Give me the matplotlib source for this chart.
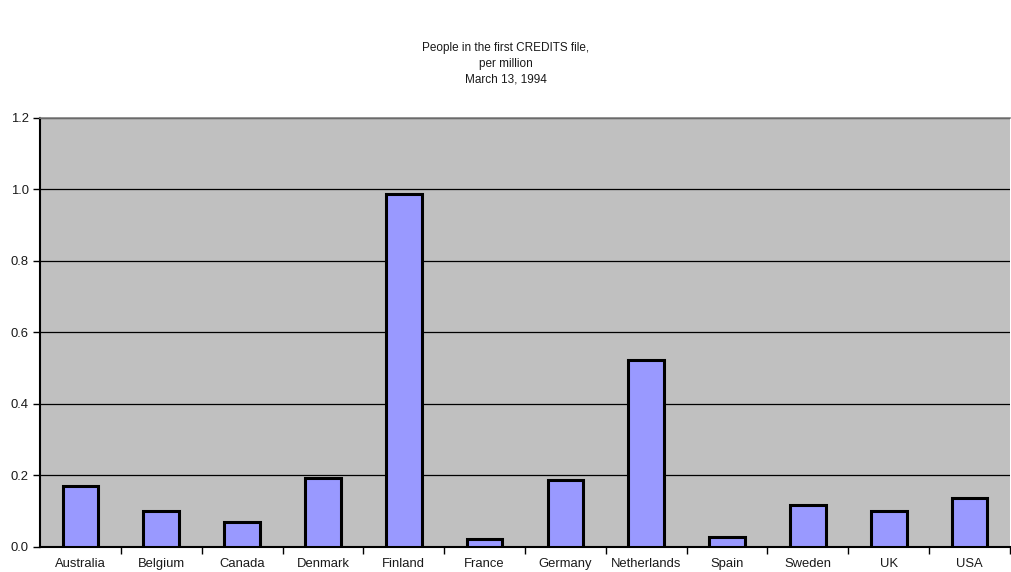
import matplotlib
matplotlib.use('Agg')
import matplotlib.pyplot as plt
from matplotlib.ticker import MultipleLocator, FormatStrFormatter

plt.rcParams['font.family'] = ['Liberation Sans', 'DejaVu Sans']
plt.rcParams['font.size'] = 9.4
plt.rcParams['text.color'] = '#1a1a1a'
plt.rcParams['xtick.labelcolor'] = '#1a1a1a'
plt.rcParams['ytick.labelcolor'] = '#1a1a1a'

countries = ['Australia', 'Belgium', 'Canada', 'Denmark', 'Finland', 'France',
             'Germany', 'Netherlands', 'Spain', 'Sweden', 'UK', 'USA']
per_million = [0.170, 0.100, 0.070, 0.193, 0.986, 0.021,
               0.186, 0.523, 0.026, 0.116, 0.099, 0.136]
title = 'People in the first CREDITS file,\nper million\nMarch 13, 1994'

fig = plt.figure(figsize=(10.11, 5.72), dpi=100)
ax = fig.add_axes([40 / 1011, 1 - 546.5 / 572, 970 / 1011, 428.5 / 572])
ax.set_facecolor('#C0C0C0')

x = range(len(countries))
ax.bar(x, per_million, width=0.44, color='#9999FF', edgecolor='black',
       linewidth=2.2, zorder=3)

ax.set_ylim(0, 1.2)
ax.set_xlim(-0.5, len(countries) - 0.5)
ax.yaxis.set_major_locator(MultipleLocator(0.2))
ax.yaxis.set_major_formatter(FormatStrFormatter('%.1f'))
ax.grid(axis='y', color='black', linewidth=0.9, zorder=1)

# category labels centred under bars, ticks on the category boundaries
ax.set_xticks(list(x))
ax.set_xticklabels(countries)
ax.tick_params(axis='x', length=0, pad=8)
ax.set_xticks([i + 0.5 for i in range(len(countries))], minor=True)
ax.tick_params(axis='x', which='minor', length=5, width=1, direction='out')
ax.tick_params(axis='y', length=5, width=1, pad=3)

ax.spines['top'].set_color('#808080')
ax.spines['top'].set_linewidth(1.2)
ax.spines['right'].set_visible(False)
ax.spines['left'].set_linewidth(1.5)
ax.spines['bottom'].set_linewidth(1.5)

fig.text(0.5, 1 - 41.5 / 572, title, ha='center', va='top', fontsize=8.5,
         linespacing=1.45)

fig.savefig('out.png', dpi=100)
